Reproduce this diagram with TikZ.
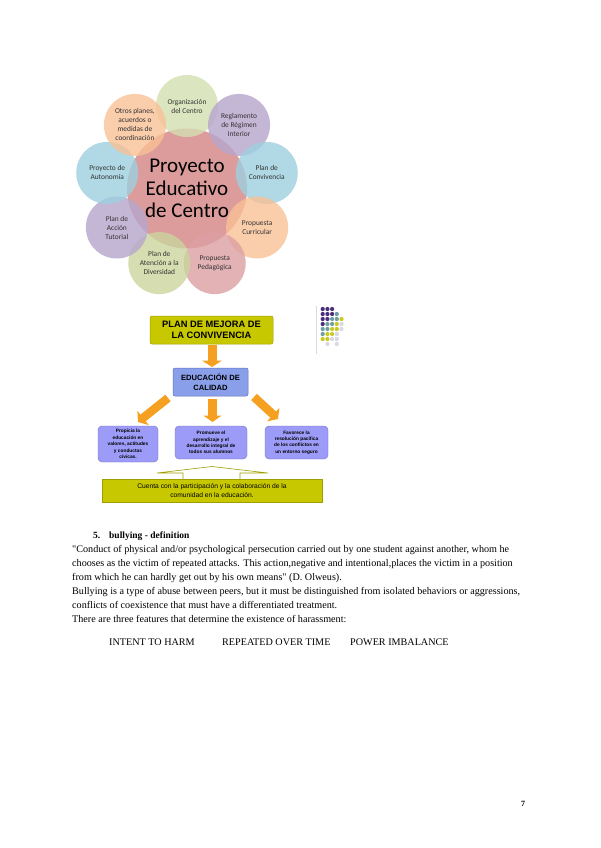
\documentclass[tikz,border=0pt]{standalone}
\usepackage{fontspec}
\setmainfont{Liberation Serif}[Ligatures=TeXOff]
\newfontfamily\calib{Carlito}
\newfontfamily\arialf{Liberation Sans}
\usetikzlibrary{arrows.meta}
\definecolor{cgreen}{HTML}{D3DFB0}
\definecolor{cpurple}{HTML}{B6A6CC}
\definecolor{cblue}{HTML}{9DD0DF}
\definecolor{cpeach}{HTML}{F9C196}
\definecolor{crose}{HTML}{DD9FA3}
\definecolor{cpink}{HTML}{DC9C9C}
\definecolor{olivey}{HTML}{C8C800}
\definecolor{olivedk}{HTML}{9E9E00}
\definecolor{eduBlue}{HTML}{8A9FEA}
\definecolor{eduDk}{HTML}{5E72C2}
\definecolor{lavb}{HTML}{9C9CF8}
\definecolor{lavdk}{HTML}{7070C8}
\definecolor{orangeA}{HTML}{F5A020}
\definecolor{dpurple}{HTML}{4A2D7A}
\definecolor{dteal}{HTML}{6E9EA2}
\definecolor{dyellow}{HTML}{C9C922}
\definecolor{dlight}{HTML}{D8D8E6}
\tikzset{
  outer/.style={circle, minimum size=62pt, inner sep=0pt, fill opacity=0.8, text opacity=1,
    align=center, font=\calib\fontsize{7.4}{9}\selectfont, text=black!80},
  center/.style={circle, minimum size=120pt, inner sep=0pt, fill=cpink, align=center,
    font=\calib\fontsize{21}{22.5}\selectfont},
  pmbox/.style={draw=olivedk, fill=olivey, rounded corners=2pt, line width=0.5pt,
    align=center, font=\arialf\bfseries\fontsize{9.3}{10.5}\selectfont},
  edubox/.style={draw=eduDk, fill=eduBlue, rounded corners=2pt, line width=0.5pt,
    align=center, font=\arialf\bfseries\fontsize{7.6}{10}\selectfont},
  smallbox/.style={draw=lavdk, fill=lavb, rounded corners=4pt, line width=0.4pt,
    align=center, font=\arialf\bfseries\fontsize{4.8}{6.4}\selectfont},
  basebox/.style={draw=olivedk, fill=olivey, line width=0.4pt,
    align=center, font=\arialf\fontsize{6.7}{8.5}\selectfont},
  bigarrow/.style={orangeA, line width=9pt, -{Triangle[width=20pt,length=6.5pt]}},
  smallarrow/.style={orangeA, line width=8.5pt, -{Triangle[width=18pt,length=6.5pt]}},
  bodyline/.style={anchor=base west, inner sep=0pt, font=\fontsize{10.15}{12}\selectfont},
}
\begin{document}
\begin{tikzpicture}[x=1pt,y=-1pt]
\useasboundingbox (0,0) rectangle (600,848);
\fill[white] (0,0) rectangle (600,848);

% ---- radial diagram ----
\node[center] (pec) at (187,188.5) {Proyecto\\Educativo\\de Centro};
\node[outer, fill=cgreen]  (org) at ({187+81*cos(90)},{187-81*sin(90)}) {Organización\\del Centro};
\node[outer, fill=cpurple] (reg) at ({187+81*cos(50)},{187-81*sin(50)}) {Reglamento\\de Régimen\\Interior};
\node[outer, fill=cblue]   (con) at ({187+81*cos(10)},{187-81*sin(10)}) {Plan de\\Convivencia};
\node[outer, fill=cpeach]  (cur) at ({187+81*cos(-30)},{187-81*sin(-30)}) {Propuesta\\Curricular};
\node[outer, fill=crose]   (ped) at ({187+81*cos(-70)},{187-81*sin(-70)}) {Propuesta\\Pedagógica};
\node[outer, fill=cgreen!90!olive] (div) at ({187+81*cos(-110)},{187-81*sin(-110)}) {Plan de\\Atención a la\\Diversidad};
\node[outer, fill=cpurple] (tut) at ({187+81*cos(-150)},{187-81*sin(-150)}) {Plan de\\Acción\\Tutorial};
\node[outer, fill=cblue]   (aut) at ({187+81*cos(170)},{187-81*sin(170)}) {Proyecto de\\Autonomía};
\node[outer, fill=cpeach]  (otr) at ({187+81*cos(130)},{187-81*sin(130)}) {Otros planes,\\acuerdos o\\medidas de\\coordinación};

% ---- flow chart ----
\node[pmbox, minimum width=123pt, minimum height=28pt] (plan) at (211.5,330) {PLAN DE MEJORA DE\\LA CONVIVENCIA};
\node[edubox, minimum width=75pt, minimum height=28pt] (edu) at (210.5,382) {EDUCACIÓN DE\\CALIDAD};
\node[smallbox, minimum width=60pt, minimum height=36pt] (b1) at (128,444) {Propicia la\\educación en\\valores, actitudes\\y conductas\\cívicas.};
\node[smallbox, minimum width=72pt, minimum height=33pt] (b2) at (211,442.5) {Promueve el\\aprendizaje y el\\desarrollo integral de\\todos sus alumnos};
\node[smallbox, minimum width=63pt, minimum height=33pt] (b3) at (296.5,442.5) {Favorece la\\resolución pacífica\\de los conflictos en\\un entorno seguro};

\coordinate (a0s) at (212,345);
\coordinate (a0e) at (212,367);
\coordinate (a1s) at (168,398);
\coordinate (a1e) at (138,422);
\coordinate (a2s) at (212.5,399);
\coordinate (a2e) at (212.5,422);
\coordinate (a3s) at (254,397);
\coordinate (a3e) at (278,419);
\draw[bigarrow] (a0s) -- (a0e);
\draw[smallarrow] (a1s) -- (a1e);
\draw[smallarrow] (a2s) -- (a2e);
\draw[smallarrow] (a3s) -- (a3e);

% up arrow above base box
\draw[olivedk, fill=white, line width=0.6pt] (183,480) -- (183,473) -- (157,473) -- (212,466.5) -- (268,473) -- (240,473) -- (240,480);
\node[basebox, minimum width=220pt, minimum height=23pt] (base) at (212,490.5) {Cuenta con la participación y la colaboración de la\\comunidad en la educación.};

% dots
\draw[black!15, line width=0.5pt] (316,306) -- (316,354);
\foreach \c/\r in {1/1,2/1,3/1,1/2,2/2,3/2,1/3,2/3,1/4}
  \fill[dpurple] ({318+4.7*\c},{304+5*\r}) circle (2.1);
\foreach \c/\r in {4/2,3/3,4/3,2/4,3/4,1/5,2/5,1/6}
  \fill[dteal] ({318+4.7*\c},{304+5*\r}) circle (2.1);
\foreach \c/\r in {5/3,4/4,3/5,4/5,2/6,3/6,1/7,2/7}
  \fill[dyellow] ({318+4.7*\c},{304+5*\r}) circle (2.1);
\foreach \c/\r in {5/4,5/5,4/6,3/7,4/7,2/8,4/8}
  \fill[dlight] ({318+4.7*\c},{304+5*\r}) circle (2.1);

% ---- text ----
\node[bodyline, font=\bfseries\fontsize{9.5}{12}\selectfont] (h5) at (93,538) {5.};
\node[bodyline, font=\bfseries\fontsize{9.5}{12}\selectfont] (h) at (109,538) {bullying - definition};
\node[bodyline] (l1) at (72,552) {"Conduct of physical and/or psychological persecution carried out by one student against another, whom he};
\node[bodyline] (l2) at (72,566) {chooses as the victim of repeated attacks. This action,negative and intentional,places the victim in a position};
\node[bodyline] (l3) at (72,580) {from which he can hardly get out by his own means" (D. Olweus).};
\node[bodyline] (l4) at (72,594) {Bullying is a type of abuse between peers, but it must be distinguished from isolated behaviors or aggressions,};
\node[bodyline] (l5) at (72,608) {conflicts of coexistence that must have a differentiated treatment.};
\node[bodyline] (l6) at (72,622) {There are three features that determine the existence of harassment:};
\node[bodyline] (f1) at (109,645) {INTENT TO HARM};
\node[bodyline] (f2) at (222,645) {REPEATED OVER TIME};
\node[bodyline] (f3) at (350,645) {POWER IMBALANCE};
\node[bodyline, font=\bfseries\fontsize{8}{10}\selectfont] (pg) at (521,806) {7};
\end{tikzpicture}
\end{document}
